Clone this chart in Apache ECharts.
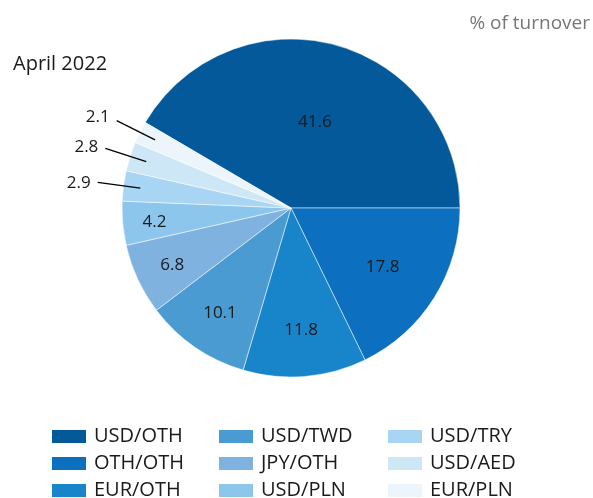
<!DOCTYPE html>
<html>
<head>
<meta charset="utf-8">
<script src="https://cdn.jsdelivr.net/npm/echarts@6/dist/echarts.min.js"></script>
<style>
  html, body { margin: 0; padding: 0; background: #fff; }
  #chart { width: 593px; height: 498px; }
</style>
</head>
<body>
<div id="chart"></div>
<script>
// currency pairs, clockwise from the top-left edge of the big slice
var pairs = ['USD/OTH', 'OTH/OTH', 'EUR/OTH', 'USD/TWD', 'JPY/OTH', 'USD/PLN', 'USD/TRY', 'USD/AED', 'EUR/PLN']
var shares = [41.6, 17.8, 11.8, 10.1, 6.8, 4.2, 2.9, 2.8, 2.1]
var colors = ['#04599b', '#0c6fbf', '#1884ca', '#4a9bd1', '#7fb2df', '#8cc6ec', '#a8d5f4', '#cde7f6', '#ecf5fc']

// small slices get outside labels with a leader line
var outside = ['USD/TRY', 'USD/AED', 'EUR/PLN']
// radius of inside labels (px), Excel "best fit" look
var labelRadius = [91, 108, 121, 125, 131, 137]

var cx = 291
var cy = 208
var R = 169
var font = '"Open Sans", "Noto Sans", sans-serif'

var total = shares.reduce(function (a, b) { return a + b }, 0)
var startAngle = 360 * shares[0] / total

var chart = echarts.init(document.getElementById('chart'))

function legendCol(names, left) {
  return {
    orient: 'vertical',
    left: left,
    top: 421,
    height: 120,
    itemWidth: 36,
    itemHeight: 15,
    itemGap: 6,
    icon: 'rect',
    selectedMode: false,
    textStyle: { fontSize: 20, lineHeight: 21, color: '#1a1a1a', fontFamily: font, padding: [0, 0, 0, 2] },
    data: names
  }
}

var labelText = {
  formatter: '{c}',
  color: '#1a1a1a',
  fontSize: 17,
  fontFamily: font
}

chart.setOption({
  animation: false,
  textStyle: { fontFamily: font },
  title: [{
    text: 'April 2022',
    left: 8,
    top: 49,
    textStyle: { fontSize: 20, fontWeight: 'normal', color: '#1a1a1a', fontFamily: font }
  }, {
    text: '% of turnover',
    right: -2,
    top: 9,
    textStyle: { fontSize: 19, fontWeight: 'normal', color: '#777', fontFamily: font }
  }],
  legend: [
    legendCol(pairs.slice(0, 3), 45),
    legendCol(pairs.slice(3, 6), 212),
    legendCol(pairs.slice(6, 9), 381)
  ],
  series: [{
    // the pie itself, with the inside labels
    type: 'pie',
    z: 2,
    center: [cx, cy],
    radius: R,
    clockwise: true,
    startAngle: startAngle,
    avoidLabelOverlap: false,
    itemStyle: { borderColor: '#fff', borderWidth: 0.5 },
    label: Object.assign({ position: 'inside' }, labelText),
    labelLine: { show: false },
    emphasis: { disabled: true },
    labelLayout: function (p) {
      var r = labelRadius[p.dataIndex]
      if (!r) return
      var rect = p.labelRect
      var lx = rect.x + rect.width / 2 - cx
      var ly = rect.y + rect.height / 2 - cy
      var d = Math.sqrt(lx * lx + ly * ly) || 1
      return { dx: lx / d * r - lx, dy: ly / d * r - ly + 2 }
    },
    data: pairs.map(function (name, i) {
      var item = { name: name, value: shares[i], itemStyle: { color: colors[i] } }
      if (outside.indexOf(name) >= 0) item.label = { show: false }
      return item
    })
  }, {
    // transparent copy, slightly smaller, so the leader lines start inside the slices
    type: 'pie',
    z: 5,
    center: [cx, cy],
    radius: R - 17,
    clockwise: true,
    startAngle: startAngle,
    avoidLabelOverlap: false,
    silent: true,
    itemStyle: { color: 'rgba(0,0,0,0)' },
    label: Object.assign({ position: 'outside', distanceToLabelLine: 7 }, labelText),
    labelLine: { show: true, length: 43, length2: 0, lineStyle: { color: '#000', width: 1.3 } },
    emphasis: { disabled: true },
    labelLayout: function (p) {
      var rect = p.labelRect
      var ly = rect.y + rect.height / 2 - cy
      var lx = rect.x + rect.width / 2 - cx
      return { dy: 13 * ly / Math.sqrt(lx * lx + ly * ly) + 2 }
    },
    data: pairs.map(function (name, i) {
      var show = outside.indexOf(name) >= 0
      return {
        name: name,
        value: shares[i],
        label: { show: show },
        labelLine: { show: show }
      }
    })
  }]
})
</script>
</body>
</html>
